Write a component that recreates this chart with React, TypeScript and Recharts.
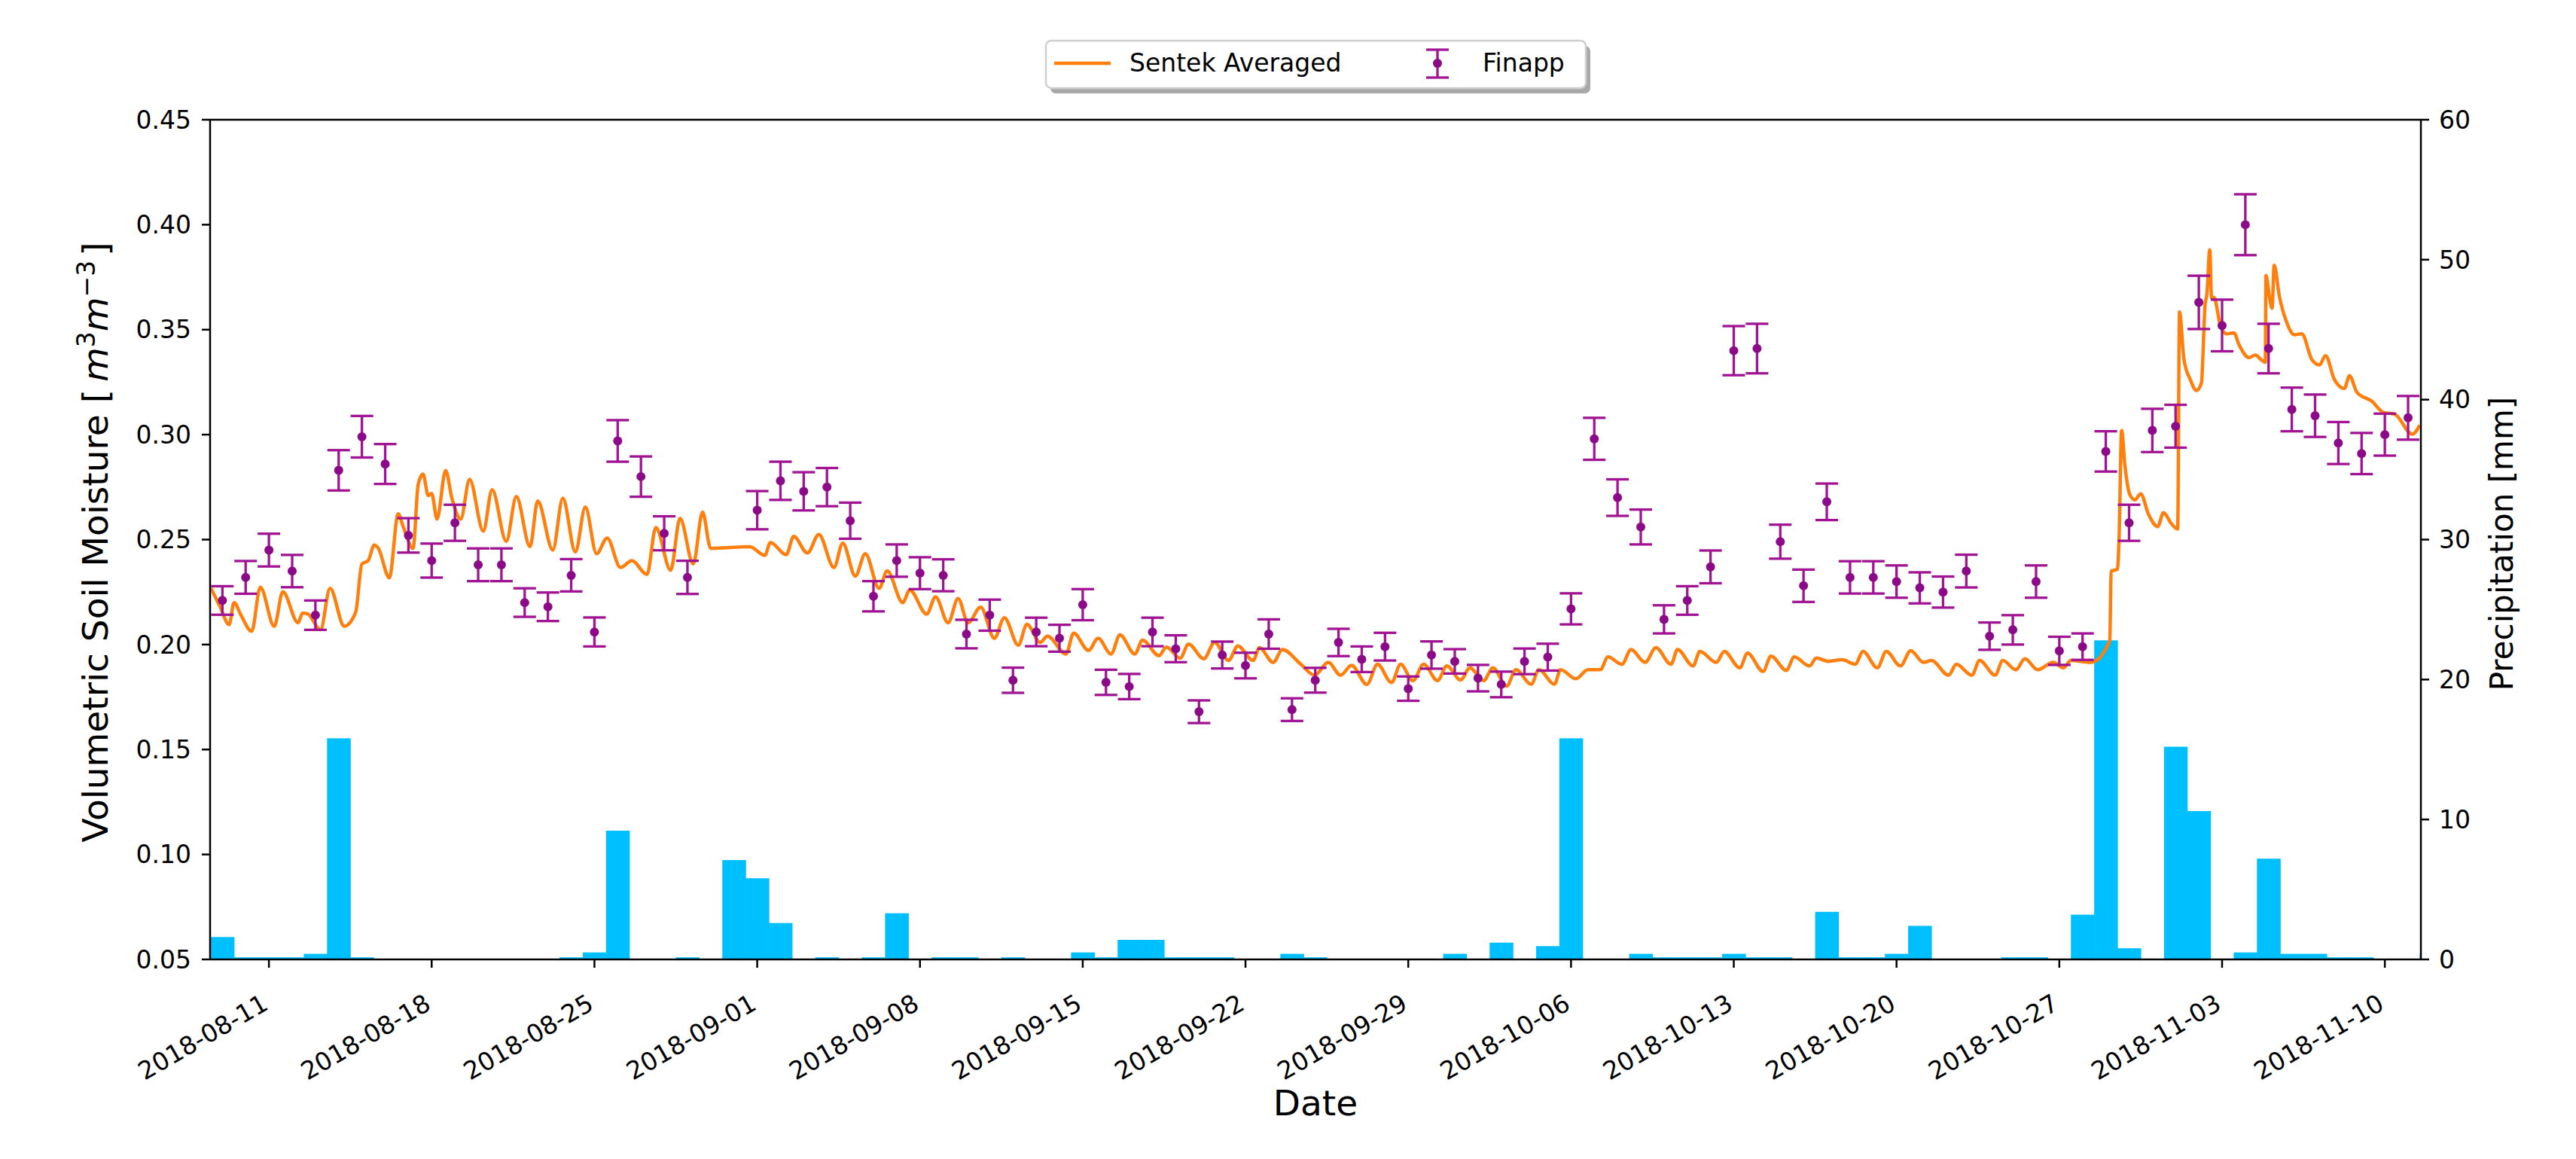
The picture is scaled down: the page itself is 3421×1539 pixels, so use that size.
import React from "react";
import {
  Bar,
  ComposedChart,
  ErrorBar,
  Line,
  ReferenceLine,
  Scatter,
  XAxis,
  YAxis,
} from "recharts";

// time is counted in days since 2018-08-01 00:00
const xTickDays = [10, 17, 24, 31, 38, 45, 52, 59, 66, 73, 80, 87, 94, 101];
const xTickLabels = [
  "2018-08-11",
  "2018-08-18",
  "2018-08-25",
  "2018-09-01",
  "2018-09-08",
  "2018-09-15",
  "2018-09-22",
  "2018-09-29",
  "2018-10-06",
  "2018-10-13",
  "2018-10-20",
  "2018-10-27",
  "2018-11-03",
  "2018-11-10",
];
const moistureTicks = [0.05, 0.1, 0.15, 0.2, 0.25, 0.3, 0.35, 0.4, 0.45];
const rainTicks = [0, 10, 20, 30, 40, 50, 60];

// Sentek averaged soil moisture
const sentekDays = [
  7.5, 7.9, 8.29, 8.5, 8.8, 9.26, 9.63, 10.23, 10.6, 11.25, 11.45, 11.68, 12.22,
  12.63, 13.24, 13.73, 14.0, 14.27, 14.53, 14.7, 15.18, 15.56, 15.78, 16.2,
  16.42, 16.63, 16.85, 17.0, 17.23, 17.6, 17.87, 18.25, 18.63, 19.22, 19.6,
  20.21, 20.64, 21.23, 21.56, 22.21, 22.64, 23.18, 23.61, 24.09, 24.55, 25.12,
  25.61, 26.26, 26.64, 27.28, 27.68, 28.25, 28.65, 29.0, 30.68, 31.33, 31.57,
  32.25, 32.57, 33.16, 33.65, 34.3, 34.68, 35.22, 35.65, 36.24, 36.59, 37.26,
  37.56, 38.29, 38.67, 39.21, 39.64, 40.07, 40.61, 41.2, 41.63, 42.23, 42.6,
  43.17, 43.48, 44.28, 44.61, 45.25, 45.66, 46.22, 46.6, 47.24, 47.57, 48.28,
  48.6, 49.19, 49.55, 50.21, 50.67, 51.27, 51.67, 52.33, 52.6, 53.19, 53.59,
  54.38, 54.97, 55.56, 56.09, 56.56, 57.22, 57.68, 58.28, 58.67, 59.2, 59.66,
  60.26, 60.66, 61.25, 61.65, 62.24, 62.64, 63.23, 63.63, 64.29, 64.62, 65.29,
  65.55, 66.21, 66.73, 67.26, 67.59, 68.19, 68.58, 69.19, 69.65, 70.3, 70.58,
  71.25, 71.54, 72.25, 72.59, 73.26, 73.59, 74.26, 74.6, 75.26, 75.6, 76.26,
  76.55, 77.06, 77.66, 78.22, 78.56, 79.17, 79.56, 80.17, 80.61, 81.16, 81.5,
  82.24, 82.57, 83.24, 83.57, 84.24, 84.57, 85.13, 85.52, 86.07, 86.74, 87.17,
  87.5, 88.36, 89.17, 89.23, 89.5, 89.57, 89.68, 89.82, 90.03, 90.25, 90.5,
  90.84, 91.23, 91.48, 91.82, 92.09, 92.17, 92.36, 92.63, 92.9, 93.11, 93.27,
  93.35, 93.47, 93.55, 93.65, 93.92, 94.19, 94.51, 94.73, 95.16, 95.43, 95.7,
  95.86, 95.89, 96.04, 96.15, 96.24, 96.46, 96.79, 97.11, 97.43, 97.86, 98.19,
  98.45, 98.83, 99.26, 99.48, 99.8, 100.45, 100.94, 101.43, 102.18, 102.5,
];
const sentekMoisture = [
  0.227, 0.218, 0.2095, 0.22, 0.214, 0.2063, 0.2273, 0.2087, 0.2252, 0.2104,
  0.215, 0.2145, 0.2071, 0.2268, 0.2087, 0.2153, 0.2384, 0.24, 0.2474, 0.246,
  0.2318, 0.2623, 0.256, 0.2458, 0.2763, 0.2812, 0.271, 0.272, 0.2598, 0.2829,
  0.2697, 0.2598, 0.2787, 0.254, 0.2738, 0.2491, 0.2705, 0.2466, 0.2684, 0.245,
  0.2697, 0.2441, 0.2655, 0.2433, 0.2507, 0.2367, 0.24, 0.2334, 0.2557, 0.2354,
  0.2601, 0.2384, 0.2631, 0.2458, 0.2466, 0.2425, 0.2486, 0.2428, 0.2515,
  0.2436, 0.2524, 0.2367, 0.2483, 0.2326, 0.2433, 0.2268, 0.2351, 0.22, 0.226,
  0.2145, 0.2227, 0.2104, 0.2219, 0.2104, 0.2178, 0.203, 0.2128, 0.1997,
  0.2096, 0.201, 0.204, 0.1955, 0.2054, 0.1972, 0.203, 0.1955, 0.2046, 0.1955,
  0.2021, 0.1947, 0.1988, 0.1935, 0.2002, 0.1932, 0.201, 0.1924, 0.1993,
  0.1924, 0.1985, 0.1915, 0.1976, 0.1906, 0.1854, 0.1915, 0.1854, 0.1901,
  0.181, 0.1906, 0.1819, 0.1906, 0.1828, 0.1906, 0.1828, 0.1898, 0.1831,
  0.1889, 0.1828, 0.1889, 0.1802, 0.188, 0.1811, 0.188, 0.1811, 0.188, 0.1837,
  0.188, 0.188, 0.1941, 0.1906, 0.1976, 0.1915, 0.1985, 0.1906, 0.1976, 0.1898,
  0.1967, 0.1915, 0.1967, 0.1889, 0.1959, 0.1872, 0.1945, 0.1877, 0.1941,
  0.1898, 0.1936, 0.192, 0.1928, 0.1906, 0.1967, 0.1889, 0.1967, 0.1898,
  0.1971, 0.1915, 0.1924, 0.1854, 0.1906, 0.1854, 0.1924, 0.1854, 0.1924,
  0.188, 0.1932, 0.188, 0.1915, 0.1889, 0.1924, 0.1915, 0.2019, 0.235, 0.2358,
  0.2506, 0.3019, 0.2854, 0.2715, 0.2689, 0.2718, 0.2619, 0.2562, 0.2628,
  0.2576, 0.255, 0.3584, 0.3358, 0.3263, 0.321, 0.3245, 0.3619, 0.3671, 0.388,
  0.365, 0.3654, 0.3523, 0.348, 0.3485, 0.3428, 0.3367, 0.3379, 0.3355,
  0.3344, 0.3758, 0.3654, 0.3602, 0.3807, 0.3662, 0.3532, 0.3476, 0.348,
  0.3358, 0.3332, 0.3376, 0.3263, 0.322, 0.328, 0.3202, 0.3158, 0.3106,
  0.3097, 0.3002, 0.3045,
];

// Finapp cosmic-ray probe, daily values with uncertainty
const finappDays = [
  8, 9, 10, 11, 12, 13, 14, 15, 16, 17, 18, 19, 20, 21, 22, 23, 24, 25, 26, 27,
  28, 31, 32, 33, 34, 35, 36, 37, 38, 39, 40, 41, 42, 43, 44, 45, 46, 47, 48,
  49, 50, 51, 52, 53, 54, 55, 56, 57, 58, 59, 60, 61, 62, 63, 64, 65, 66, 67,
  68, 69, 70, 71, 72, 73, 74, 75, 76, 77, 78, 79, 80, 81, 82, 83, 84, 85, 86,
  87, 88, 89, 90, 91, 92, 93, 94, 95, 96, 97, 98, 99, 100, 101, 102,
];
const finappMoisture = [
  0.221, 0.232, 0.245, 0.235, 0.214, 0.283, 0.299, 0.286, 0.252, 0.24, 0.258,
  0.238, 0.238, 0.22, 0.218, 0.233, 0.206, 0.297, 0.28, 0.253, 0.232, 0.264,
  0.278, 0.273, 0.275, 0.259, 0.223, 0.24, 0.234, 0.233, 0.205, 0.214, 0.183,
  0.206, 0.203, 0.219, 0.182, 0.18, 0.206, 0.198, 0.168, 0.195, 0.19, 0.205,
  0.169, 0.183, 0.201, 0.193, 0.199, 0.179, 0.195, 0.192, 0.184, 0.181, 0.192,
  0.194, 0.217, 0.298, 0.27, 0.256, 0.212, 0.221, 0.237, 0.34, 0.341, 0.249,
  0.228, 0.268, 0.232, 0.232, 0.23, 0.227, 0.225, 0.235, 0.204, 0.207, 0.23,
  0.197, 0.199, 0.292, 0.258, 0.302, 0.304, 0.363, 0.352, 0.4, 0.341, 0.312,
  0.309, 0.296, 0.291, 0.3, 0.308,
];
const finappError = [
  0.0068, 0.0078, 0.0078, 0.0077, 0.007, 0.0096, 0.0099, 0.0095, 0.0082,
  0.0081, 0.0086, 0.0078, 0.0078, 0.0068, 0.0068, 0.0077, 0.0069, 0.0099,
  0.0096, 0.0081, 0.0079, 0.0091, 0.0091, 0.0091, 0.0091, 0.0086, 0.0072,
  0.0077, 0.0076, 0.0076, 0.0068, 0.0074, 0.006, 0.0068, 0.0064, 0.0074, 0.006,
  0.006, 0.0068, 0.0064, 0.0054, 0.0064, 0.0061, 0.007, 0.0054, 0.0059, 0.0065,
  0.0061, 0.0066, 0.0058, 0.0065, 0.0058, 0.0063, 0.0061, 0.0061, 0.0064,
  0.0074, 0.01, 0.0087, 0.0083, 0.0067, 0.0068, 0.0078, 0.0117, 0.0118, 0.0081,
  0.0077, 0.0087, 0.0077, 0.0077, 0.0077, 0.0074, 0.0074, 0.0078, 0.0065,
  0.007, 0.0077, 0.0067, 0.0063, 0.0096, 0.0086, 0.0103, 0.0102, 0.0127,
  0.0123, 0.0145, 0.0118, 0.0104, 0.0101, 0.01, 0.0098, 0.01, 0.0104,
];

// daily precipitation [mm]
const rainDays = [
  8, 9, 10, 11, 12, 13, 14, 23, 24, 25, 28, 30, 31, 32, 34, 36, 37, 39, 40, 42,
  45, 46, 47, 48, 49, 50, 51, 54, 55, 61, 63, 65, 66, 69, 70, 71, 72, 73, 74,
  75, 77, 78, 79, 80, 81, 85, 86, 88, 89, 90, 92, 93, 95, 96, 97, 98, 99, 100,
  103,
];
const rainMm = [
  1.6, 0.15, 0.15, 0.15, 0.4, 15.8, 0.15, 0.15, 0.5, 9.2, 0.15, 7.1, 5.8, 2.6,
  0.15, 0.15, 3.3, 0.15, 0.15, 0.15, 0.5, 0.15, 1.4, 1.4, 0.15, 0.15, 0.15,
  0.4, 0.15, 0.4, 1.2, 0.95, 15.8, 0.4, 0.15, 0.15, 0.15, 0.4, 0.15, 0.15, 3.4,
  0.15, 0.15, 0.4, 2.4, 0.15, 0.15, 3.2, 22.8, 0.8, 15.2, 10.6, 0.5, 7.2, 0.4,
  0.4, 0.15, 0.15, 0.4,
];

const sentekData = sentekDays.map((t, i) => ({ t, v: sentekMoisture[i] }));
const finappData = finappDays.map((t, i) => ({
  t,
  v: finappMoisture[i],
  err: finappError[i],
}));
const rainData = rainDays.map((t, i) => ({ t, rain: rainMm[i] }));

const FONT = "DejaVu Sans";
const ORANGE = "#ff7f0e";
const PURPLE = "#8b0a87";
const PURPLE_BAR = "#a01493";
const RAIN = "#00bfff";

// plot area geometry (px)
const PLOT_LEFT = 279;
const PLOT_RIGHT = 3215;
const X_DOMAIN: [number, number] = [7.47, 102.55];
const DAY_PX = (PLOT_RIGHT - PLOT_LEFT) / (X_DOMAIN[1] - X_DOMAIN[0]);

function DateTick(props: any) {
  const { x, y, payload } = props;
  const label = xTickLabels[xTickDays.indexOf(payload.value)];
  const ax = x + 1;
  const ay = y + 52;
  return (
    <text
      x={ax}
      y={ay}
      transform={`rotate(-30 ${ax} ${ay})`}
      textAnchor="end"
      fontFamily={FONT}
      fontSize={33}
      fill="#000"
    >
      {label}
    </text>
  );
}

// one-day wide bars centred on the date, cut at the plot edges
function RainBar(props: any) {
  const { x, y, width, height } = props;
  if (!height || height <= 0) return null;
  const cx = x + width / 2;
  const left = Math.max(cx - DAY_PX / 2, PLOT_LEFT);
  const right = Math.min(cx + DAY_PX / 2 + 0.6, PLOT_RIGHT);
  if (right <= left) return null;
  return (
    <rect x={left} y={y} width={right - left} height={height} fill={RAIN} />
  );
}

function FinappDot(props: any) {
  return <circle cx={props.cx} cy={props.cy} r={6} fill={PURPLE} />;
}

function App() {
  return (
    <div style={{ position: "relative", width: 3421, height: 1539 }}>
      <style>{"body{margin:0;}"}</style>
      <ComposedChart
        width={3421}
        height={1539}
        data={rainData}
        margin={{ top: 159, right: 56, bottom: 65, left: 99 }}
        barCategoryGap={0}
        style={{ background: "#fff" }}
      >
        <XAxis
          dataKey="t"
          type="number"
          domain={X_DOMAIN}
          ticks={xTickDays}
          interval={0}
          allowDataOverflow
          height={200}
          tick={<DateTick />}
          tickSize={11}
          axisLine={{ stroke: "#000", strokeWidth: 2.5 }}
          tickLine={{ stroke: "#000", strokeWidth: 2.5 }}
        />
        <YAxis
          yAxisId="left"
          type="number"
          domain={[0.05, 0.45]}
          ticks={moistureTicks}
          interval={0}
          allowDataOverflow
          width={180}
          tickFormatter={(v: number) => v.toFixed(2)}
          tick={{ fontSize: 33, fill: "#000", fontFamily: FONT }}
          tickSize={11}
          tickMargin={14}
          axisLine={{ stroke: "#000", strokeWidth: 2.5 }}
          tickLine={{ stroke: "#000", strokeWidth: 2.5 }}
        />
        <YAxis
          yAxisId="right"
          orientation="right"
          type="number"
          domain={[0, 60]}
          ticks={rainTicks}
          interval={0}
          allowDataOverflow
          width={150}
          tick={{ fontSize: 33, fill: "#000", fontFamily: FONT, textAnchor: "start" }}
          tickSize={11}
          tickMargin={13}
          axisLine={{ stroke: "#000", strokeWidth: 2.5 }}
          tickLine={{ stroke: "#000", strokeWidth: 2.5 }}
        />
        <Line
          yAxisId="left"
          data={sentekData}
          dataKey="v"
          type="monotone"
          stroke={ORANGE}
          strokeWidth={4.5}
          strokeLinejoin="round"
          dot={false}
          activeDot={false}
          isAnimationActive={false}
        />
        <Scatter
          yAxisId="left"
          data={finappData}
          dataKey="v"
          shape={<FinappDot />}
          isAnimationActive={false}
        >
          <ErrorBar
            dataKey="err"
            direction="y"
            width={15}
            stroke={PURPLE_BAR}
            strokeWidth={3.3}
          />
        </Scatter>
        <Bar
          yAxisId="right"
          dataKey="rain"
          fill={RAIN}
          shape={<RainBar />}
          isAnimationActive={false}
        />
        <ReferenceLine
          yAxisId="left"
          y={0.45}
          stroke="#000"
          strokeWidth={2.5}
        />
      </ComposedChart>

      <svg
        width={3421}
        height={1539}
        style={{ position: "absolute", left: 0, top: 0, pointerEvents: "none" }}
      >
        {/* legend */}
        <rect x={1395} y={61} width={717} height={63} rx={7} fill="#a8a8a8" />
        <rect
          x={1389}
          y={54}
          width={717}
          height={63}
          rx={7}
          fill="#fff"
          stroke="#cfcfcf"
          strokeWidth={2.5}
        />
        <line x1={1400} y1={84} x2={1475} y2={84} stroke={ORANGE} strokeWidth={4.5} />
        <text x={1500} y={95} fontFamily={FONT} fontSize={33} fill="#000">
          Sentek Averaged
        </text>
        <line x1={1909} y1={66} x2={1909} y2={103} stroke={PURPLE_BAR} strokeWidth={3.3} />
        <line x1={1894} y1={66} x2={1924} y2={66} stroke={PURPLE_BAR} strokeWidth={3.3} />
        <line x1={1894} y1={103} x2={1924} y2={103} stroke={PURPLE_BAR} strokeWidth={3.3} />
        <circle cx={1909} cy={84} r={6} fill={PURPLE} />
        <text x={1969} y={95} fontFamily={FONT} fontSize={33} fill="#000">
          Finapp
        </text>

        {/* axis titles */}
        <text
          transform="translate(143,720) rotate(-90)"
          textAnchor="middle"
          fontFamily={FONT}
          fontSize={47}
          fill="#000"
        >
          Volumetric Soil Moisture [
          <tspan dx={10} fontStyle="italic">m</tspan>
          <tspan dy={-17} fontSize={33}>3</tspan>
          <tspan dy={17} fontStyle="italic">m</tspan>
          <tspan dy={-17} fontSize={33}>−3</tspan>
          <tspan dy={17} dx={6}>]</tspan>
        </text>
        <text
          transform="translate(3337,722) rotate(-90)"
          textAnchor="middle"
          fontFamily={FONT}
          fontSize={42}
          fill="#000"
        >
          Precipitation [mm]
        </text>
        <text
          x={1747}
          y={1481}
          textAnchor="middle"
          fontFamily={FONT}
          fontSize={47}
          fill="#000"
        >
          Date
        </text>
      </svg>
    </div>
  );
}

export default App;
